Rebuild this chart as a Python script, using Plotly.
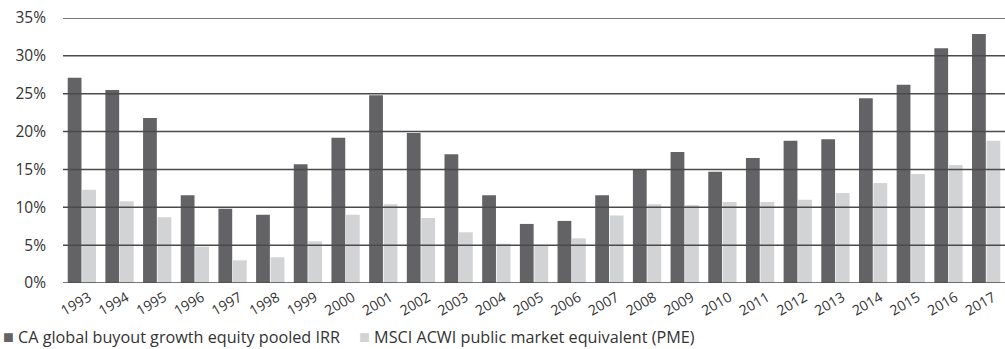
import plotly.graph_objects as go

years = [str(y) for y in range(1993, 2018)]
irr = [27.1, 25.5, 21.8, 11.6, 9.8, 9.0, 15.7, 19.2, 24.8, 19.8, 17.0, 11.6, 7.8, 8.2,
       11.6, 15.0, 17.3, 14.7, 16.5, 18.8, 19.0, 24.4, 26.2, 31.0, 32.9]
pme = [12.3, 10.8, 8.7, 4.8, 3.0, 3.4, 5.5, 9.0, 10.4, 8.6, 6.7, 5.2, 4.9, 5.9,
       8.9, 10.4, 10.3, 10.7, 10.7, 11.0, 11.9, 13.2, 14.4, 15.6, 18.8]
tick_vals = [0, 5, 10, 15, 20, 25, 30, 35]
tick_text = [f"{v}%" for v in tick_vals]

names = ["CA global buyout growth equity pooled IRR", "MSCI ACWI public market equivalent (PME)"]
colors = ["#636366", "#d2d3d5"]

fig = go.Figure()
fig.add_trace(go.Bar(x=years, y=irr, name=names[0], marker=dict(color=colors[0], line=dict(width=0))))
fig.add_trace(go.Bar(x=years, y=pme, name=names[1], marker=dict(color=colors[1], line=dict(width=0))))

shapes = []
for v in tick_vals:
    shapes.append(dict(type="line", xref="paper", yref="y", x0=0, x1=1, y0=v, y1=v,
                       line=dict(color="#4a4a4a", width=1.5), layer="above"))

# legend drawn as text annotations (square glyph + label)
L = 63
W = 1005 - L
H = 283 - 18
annotations = []
legend_px = [1, 357]
for name, col, px in zip(names, colors, legend_px):
    annotations.append(dict(
        xref="paper", yref="paper", x=(px - L) / W, y=(283 - 336) / H,
        xanchor="left", yanchor="middle", showarrow=False,
        text=f"<span style='font-size:18px;color:{col}'>■</span> {name}",
        font=dict(family="Open Sans", size=16.2, color="#333333"),
    ))

fig.update_layout(
    width=1005, height=349,
    margin=dict(l=L, r=0, t=18, b=66),
    paper_bgcolor="white", plot_bgcolor="white",
    barmode="group", bargap=0.23, bargroupgap=0.05,
    font=dict(family="Open Sans", color="#333333", size=14),
    showlegend=False,
    shapes=shapes,
    annotations=annotations,
    xaxis=dict(type="category", tickangle=-30, tickfont=dict(size=14), showgrid=False,
               showline=False, ticks="", range=[-0.5, 24.5], automargin=False,
               ticklabelshift=7, ticklabelstandoff=3),
    yaxis=dict(range=[0, 35], tickvals=tick_vals, ticktext=tick_text, showgrid=False,
               zeroline=False, showline=False, ticks="", tickfont=dict(size=15.5),
               ticklabelstandoff=16, automargin=False),
)

fig.write_html("out.html", config={"displayModeBar": False},
               post_script="document.body.style.margin='0';document.body.style.overflow='hidden';")
